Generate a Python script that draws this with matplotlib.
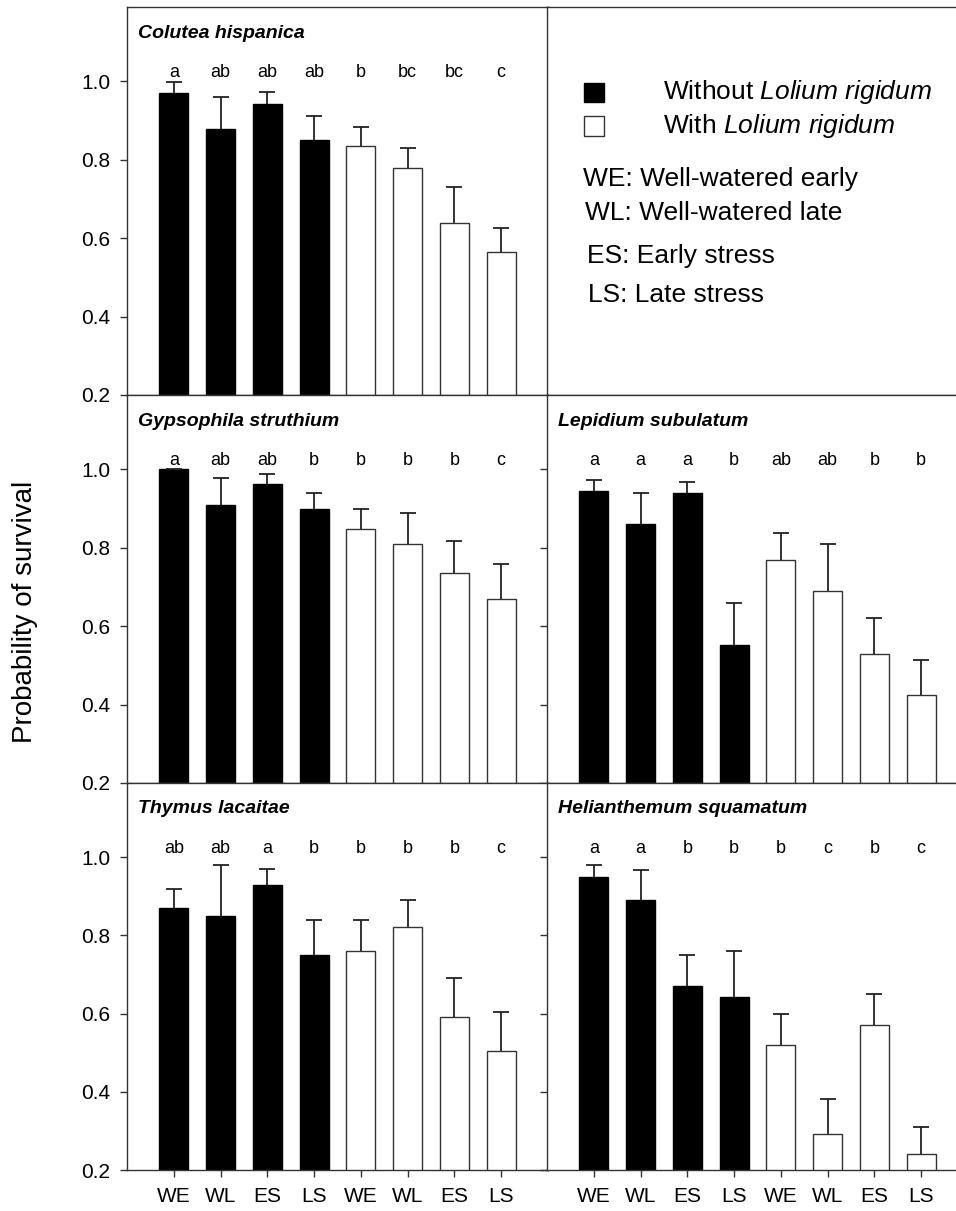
import numpy as np
import matplotlib.pyplot as plt
from matplotlib.patches import Rectangle

plt.rcParams['font.family'] = ['Liberation Sans', 'DejaVu Sans']
plt.rcParams['mathtext.fontset'] = 'custom'
plt.rcParams['mathtext.rm'] = 'Liberation Sans'
plt.rcParams['mathtext.it'] = 'Liberation Sans:italic'

# treatments (first four without Lolium, last four with Lolium)
treatments = ['WE', 'WL', 'ES', 'LS', 'WE', 'WL', 'ES', 'LS']
with_lolium = [False, False, False, False, True, True, True, True]

# mean survival and top of the error bar
colutea_mean = [0.970, 0.879, 0.943, 0.850, 0.836, 0.780, 0.640, 0.564]
colutea_top = [0.998, 0.960, 0.973, 0.911, 0.885, 0.831, 0.731, 0.625]
colutea_letters = ['a', 'ab', 'ab', 'ab', 'b', 'bc', 'bc', 'c']

gypsophila_mean = [1.000, 0.910, 0.964, 0.900, 0.849, 0.811, 0.737, 0.670]
gypsophila_top = [1.000, 0.979, 0.988, 0.940, 0.898, 0.890, 0.817, 0.760]
gypsophila_letters = ['a', 'ab', 'ab', 'b', 'b', 'b', 'b', 'c']

lepidium_mean = [0.944, 0.860, 0.940, 0.552, 0.770, 0.690, 0.530, 0.424]
lepidium_top = [0.972, 0.939, 0.968, 0.659, 0.839, 0.810, 0.621, 0.513]
lepidium_letters = ['a', 'a', 'a', 'b', 'ab', 'ab', 'b', 'b']

thymus_mean = [0.870, 0.851, 0.930, 0.750, 0.760, 0.821, 0.591, 0.505]
thymus_top = [0.920, 0.981, 0.969, 0.839, 0.839, 0.890, 0.690, 0.603]
thymus_letters = ['ab', 'ab', 'a', 'b', 'b', 'b', 'b', 'c']

helianthemum_mean = [0.949, 0.890, 0.671, 0.642, 0.520, 0.291, 0.570, 0.242]
helianthemum_top = [0.979, 0.968, 0.749, 0.761, 0.600, 0.381, 0.650, 0.310]
helianthemum_letters = ['a', 'a', 'b', 'b', 'b', 'c', 'b', 'c']

legend_lines = ['WE: Well-watered early', 'WL: Well-watered late',
                'ES: Early stress', 'LS: Late stress']

W, H = 956, 1211
fig = plt.figure(figsize=(W / 100, H / 100), dpi=100)

EDGE = '#333333'


def px_axes(x0, y0, w, h):
    # pixel box (from top-left) -> figure fraction
    return fig.add_axes([x0 / W, 1 - (y0 + h) / H, w / W, h / H])


def style_axes(ax, yticks=True, xticks=True, xlabels=False, ylabels=False):
    ax.set_xlim(-1, 8)
    ax.set_ylim(0.2, 1.19)
    for sp in ax.spines.values():
        sp.set_color(EDGE)
        sp.set_linewidth(1.0)
    ax.tick_params(direction='out', length=5, width=1, color=EDGE, labelsize=15, pad=7)
    if yticks:
        ax.set_yticks([0.2, 0.4, 0.6, 0.8, 1.0])
        if ylabels:
            ax.set_yticklabels(['0.2', '0.4', '0.6', '0.8', '1.0'])
        else:
            ax.set_yticklabels([])
    else:
        ax.set_yticks([])
    if xticks:
        ax.set_xticks(np.arange(8))
        if xlabels:
            ax.set_xticklabels(treatments)
        else:
            ax.set_xticklabels([])
    else:
        ax.set_xticks([])


def draw_panel(ax, name, mean, top, letters):
    x = np.arange(len(mean))
    mean = np.array(mean)
    up = np.array(top) - mean
    colors = ['white' if w else 'black' for w in with_lolium]
    edges = [EDGE if w else 'black' for w in with_lolium]
    ax.bar(x, mean, width=0.62, color=colors, edgecolor=edges, linewidth=1.0, zorder=2)
    eb = ax.errorbar(x, mean, yerr=[np.zeros_like(up), up], fmt='none', ecolor='#222222',
                     elinewidth=1.3, capsize=6, capthick=1.3, zorder=3)
    # only the upper cap is drawn in the original
    eb[1][0].set_visible(False)
    for xi, lab in zip(x, letters):
        ax.text(xi, 1.012, lab, ha='center', va='baseline', fontsize=13)
    ax.text(11 / 421, 1 - 26 / 388, name, transform=ax.transAxes, ha='left', va='center',
            fontsize=14, fontweight='bold', fontstyle='italic')


LX, RX, AW = 127, 547, 421
rows = [7, 395, 783]
AH = 388

ax1 = px_axes(LX, rows[0], AW, AH)
style_axes(ax1, ylabels=True)
draw_panel(ax1, 'Colutea hispanica', colutea_mean, colutea_top, colutea_letters)

ax_leg = px_axes(RX, rows[0], AW, AH)
style_axes(ax_leg, yticks=False, xticks=False)

ax3 = px_axes(LX, rows[1], AW, AH)
style_axes(ax3, ylabels=True)
draw_panel(ax3, 'Gypsophila struthium', gypsophila_mean, gypsophila_top, gypsophila_letters)

ax4 = px_axes(RX, rows[1], AW, AH)
style_axes(ax4)
draw_panel(ax4, 'Lepidium subulatum', lepidium_mean, lepidium_top, lepidium_letters)

ax5 = px_axes(LX, rows[2], AW, AH - 1)
style_axes(ax5, xlabels=True, ylabels=True)
draw_panel(ax5, 'Thymus lacaitae', thymus_mean, thymus_top, thymus_letters)

ax6 = px_axes(RX, rows[2], AW, AH - 1)
style_axes(ax6, xlabels=True)
draw_panel(ax6, 'Helianthemum squamatum', helianthemum_mean, helianthemum_top, helianthemum_letters)

# legend block in the empty top-right panel
fig.add_artist(Rectangle((584 / W, 1 - 102 / H), 20 / W, 19 / H, transform=fig.transFigure,
                         facecolor='black', edgecolor='black', linewidth=1))
fig.add_artist(Rectangle((584 / W, 1 - 136 / H), 20 / W, 20 / H, transform=fig.transFigure,
                         facecolor='white', edgecolor=EDGE, linewidth=1))
fig.text(663 / W, 1 - 92 / H, r'Without $\mathit{Lolium\ rigidum}$', fontsize=19, va='center')
fig.text(663 / W, 1 - 126 / H, r'With $\mathit{Lolium\ rigidum}$', fontsize=19, va='center')
for (lx, ly), line in zip([(583, 179), (585, 213), (587, 256), (588, 295)], legend_lines):
    fig.text(lx / W, 1 - ly / H, line, fontsize=19, va='center')

fig.text(25 / W, 1 - 612 / H, 'Probability of survival', rotation=90, fontsize=20,
         ha='center', va='center')

fig.savefig('out.png', dpi=100)
